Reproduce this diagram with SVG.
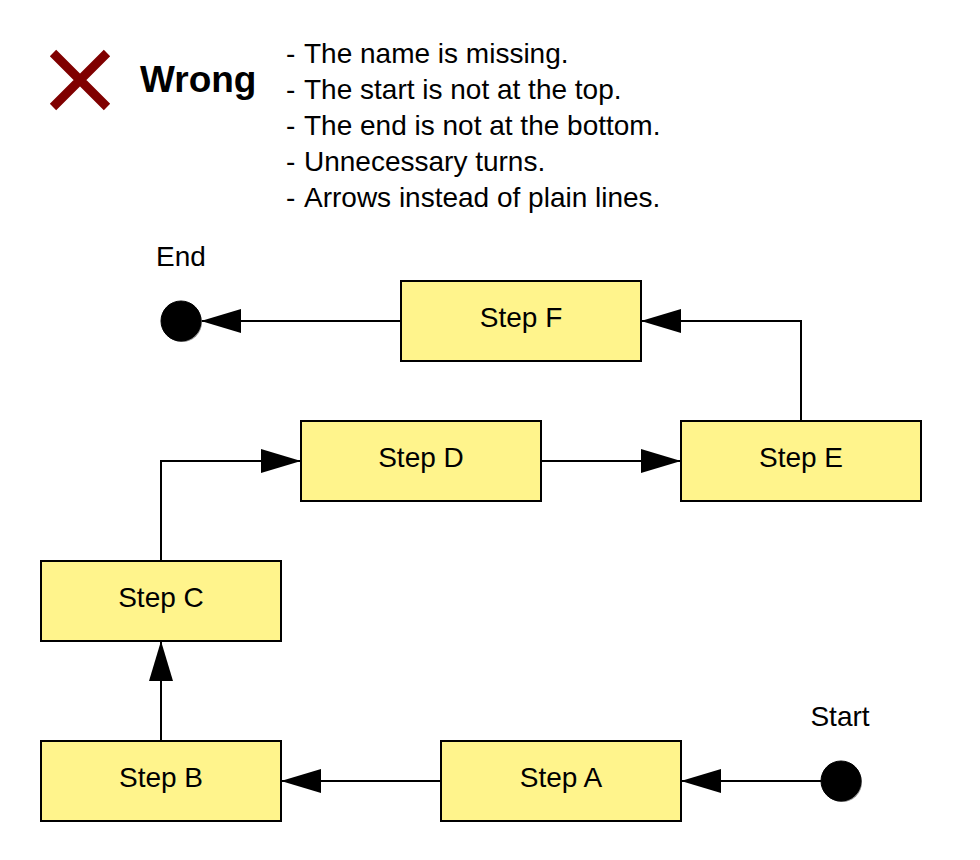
<svg xmlns="http://www.w3.org/2000/svg" width="980" height="860" viewBox="0 0 980 860">
<defs>
<style>
.box{fill:#FFF48C;stroke:#000;stroke-width:2}
.lbl{font-family:"Liberation Sans",Arial,sans-serif;font-size:28px;fill:#000;text-anchor:middle}
.txt{font-family:"Liberation Sans",Arial,sans-serif;font-size:28px;fill:#000}
.edge{fill:none;stroke:#000;stroke-width:2}
.dot{fill:#000;stroke:#000;stroke-width:1}
</style>
<marker id="arr" viewBox="0 0 40 24" refX="40" refY="12" markerWidth="40" markerHeight="24" markerUnits="userSpaceOnUse" orient="auto">
<path d="M0,0 L40,12 L0,24 Z" fill="#000"/>
</marker>
</defs>
<rect width="980" height="860" fill="#fff"/>
<g id="legend">
<path d="M53,53 L107,107 M107,53 L53,107" stroke="#800000" stroke-width="9" fill="none"/>
<text x="140" y="92" style="font-family:'Liberation Sans',Arial,sans-serif;font-size:37px;font-weight:bold">Wrong</text>
<text class="txt" x="286" y="63">-</text><text class="txt" x="304" y="63">The name is missing.</text>
<text class="txt" x="286" y="99">-</text><text class="txt" x="304" y="99">The start is not at the top.</text>
<text class="txt" x="286" y="135">-</text><text class="txt" x="304" y="135">The end is not at the bottom.</text>
<text class="txt" x="286" y="171">-</text><text class="txt" x="304" y="171">Unnecessary turns.</text>
<text class="txt" x="286" y="207">-</text><text class="txt" x="304" y="207">Arrows instead of plain lines.</text>
</g>
<g id="connectors">
<path class="edge" d="M821,781 H681" marker-end="url(#arr)"/>
<path class="edge" d="M441,781 H281" marker-end="url(#arr)"/>
<path class="edge" d="M161,741 V641" marker-end="url(#arr)"/>
<path class="edge" d="M161,561 V461 H301" marker-end="url(#arr)"/>
<path class="edge" d="M541,461 H681" marker-end="url(#arr)"/>
<path class="edge" d="M801,421 V321 H641" marker-end="url(#arr)"/>
<path class="edge" d="M401,321 H201" marker-end="url(#arr)"/>
</g>
<g id="end">
<circle cx="182" cy="322" r="20" fill="#888"/>
<circle class="dot" cx="181" cy="321" r="20"/>
<text class="lbl" x="181" y="266">End</text>
</g>
<g id="start">
<circle cx="842" cy="782" r="20" fill="#888"/>
<circle class="dot" cx="841" cy="781" r="20"/>
<text class="lbl" x="840" y="726">Start</text>
</g>
<g id="stepF"><rect class="box" x="401" y="281" width="240" height="80"/><text class="lbl" x="521" y="327">Step F</text></g>
<g id="stepD"><rect class="box" x="301" y="421" width="240" height="80"/><text class="lbl" x="421" y="467">Step D</text></g>
<g id="stepE"><rect class="box" x="681" y="421" width="240" height="80"/><text class="lbl" x="801" y="467">Step E</text></g>
<g id="stepC"><rect class="box" x="41" y="561" width="240" height="80"/><text class="lbl" x="161" y="607">Step C</text></g>
<g id="stepB"><rect class="box" x="41" y="741" width="240" height="80"/><text class="lbl" x="161" y="787">Step B</text></g>
<g id="stepA"><rect class="box" x="441" y="741" width="240" height="80"/><text class="lbl" x="561" y="787">Step A</text></g>
</svg>
